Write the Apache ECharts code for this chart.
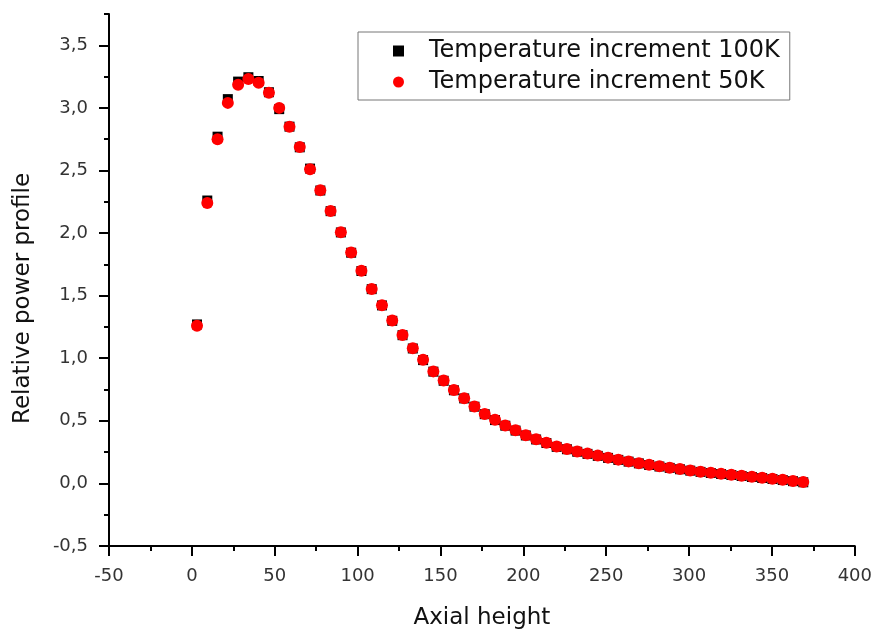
<!DOCTYPE html>
<html>
<head>
<meta charset="utf-8">
<script src="https://cdn.jsdelivr.net/npm/echarts@6/dist/echarts.min.js"></script>
<style>
  html, body { margin: 0; padding: 0; background: #fff; }
  #chart { width: 875px; height: 635px; }
</style>
</head>
<body>
<div id="chart"></div>
<script>
// Axial node heights
const axialHeight = [3.1, 9.3, 15.5, 21.7, 27.9, 34.1, 40.3, 46.5, 52.7, 58.9,
  65.1, 71.3, 77.5, 83.7, 89.9, 96.1, 102.3, 108.5, 114.7, 120.9,
  127.1, 133.3, 139.5, 145.7, 151.9, 158.1, 164.3, 170.5, 176.7, 182.9,
  189.1, 195.3, 201.5, 207.7, 213.9, 220.1, 226.3, 232.5, 238.7, 244.9,
  251.1, 257.3, 263.5, 269.7, 275.9, 282.1, 288.3, 294.5, 300.7, 306.9,
  313.1, 319.3, 325.5, 331.7, 337.9, 344.1, 350.3, 356.5, 362.7, 368.9];

// Relative power, temperature increment 100K
const power100K = [1.27, 2.26, 2.77, 3.07, 3.21, 3.245, 3.215, 3.125, 2.99, 2.85,
  2.685, 2.515, 2.340, 2.175, 2.005, 1.843, 1.697, 1.552, 1.422, 1.299,
  1.184, 1.078, 0.985, 0.893, 0.820, 0.744, 0.679, 0.613, 0.553, 0.506,
  0.461, 0.422, 0.383, 0.351, 0.323, 0.292, 0.273, 0.253, 0.236, 0.220,
  0.204, 0.188, 0.174, 0.160, 0.147, 0.135, 0.124, 0.113, 0.102, 0.092,
  0.083, 0.075, 0.067, 0.059, 0.051, 0.043, 0.035, 0.027, 0.018, 0.009];

// Relative power, temperature increment 50K
const power50K = [1.26, 2.24, 2.75, 3.04, 3.185, 3.23, 3.20, 3.12, 3.00, 2.85,
  2.687, 2.51, 2.342, 2.177, 2.007, 1.845, 1.699, 1.554, 1.424, 1.301,
  1.186, 1.080, 0.987, 0.895, 0.822, 0.746, 0.681, 0.615, 0.555, 0.508,
  0.463, 0.424, 0.385, 0.353, 0.325, 0.294, 0.275, 0.255, 0.238, 0.222,
  0.206, 0.190, 0.176, 0.162, 0.149, 0.137, 0.126, 0.115, 0.104, 0.094,
  0.085, 0.077, 0.069, 0.061, 0.053, 0.045, 0.037, 0.029, 0.020, 0.011];

const seriesNames = ['Temperature increment 100K', 'Temperature increment 50K'];

// Tick positions
const xTicks = [-50, 0, 50, 100, 150, 200, 250, 300, 350, 400];
const yTicks = [-0.5, 0, 0.5, 1.0, 1.5, 2.0, 2.5, 3.0, 3.5];
const yMinorTicks = [-0.25, 0.25, 0.75, 1.25, 1.75, 2.25, 2.75, 3.25, 3.75];

const FONT = 'DejaVu Sans';

const chart = echarts.init(document.getElementById('chart'), null, { renderer: 'canvas' });

const pairs = (xs, ys) => xs.map((x, i) => [x, ys[i]]);

chart.setOption({
  animation: false,
  backgroundColor: '#fff',
  grid: { left: 109, right: 20, top: 14, bottom: 82, containLabel: false },
  legend: {
    orient: 'vertical',
    left: 358,
    top: 32,
    padding: [7, 10, 6, 35],
    itemGap: 7,
    itemWidth: 11,
    itemHeight: 11,
    borderColor: '#777',
    borderWidth: 1,
    backgroundColor: '#fff',
    selectedMode: false,
    textStyle: { fontFamily: FONT, fontSize: 24, color: '#111', padding: [0, 0, 0, 20] },
    data: [
      { name: seriesNames[0], icon: 'rect' },
      { name: seriesNames[1], icon: 'circle' }
    ]
  },
  xAxis: {
    type: 'value',
    min: xTicks[0],
    max: xTicks[xTicks.length - 1],
    interval: 50,
    name: 'Axial height',
    nameLocation: 'middle',
    nameGap: 61,
    nameTextStyle: { fontFamily: FONT, fontSize: 23, color: '#111' },
    axisLine: { onZero: false, lineStyle: { color: '#000', width: 2 } },
    axisTick: { inside: false, length: 10, lineStyle: { color: '#000', width: 2 } },
    minorTick: { show: true, splitNumber: 2, length: 5, lineStyle: { color: '#000', width: 2 } },
    axisLabel: { margin: 21, fontFamily: FONT, fontSize: 18, color: '#333' },
    splitLine: { show: false }
  },
  yAxis: [
    {
      type: 'value',
      min: -0.5,
      max: 3.75,
      interval: 0.5,
      name: 'Relative power profile',
      nameLocation: 'middle',
      nameGap: 74,
      nameTextStyle: { fontFamily: FONT, fontSize: 23, color: '#111', padding: [0, 37, 0, 0] },
      axisLine: { onZero: false, lineStyle: { color: '#000', width: 2 } },
      axisTick: { inside: false, length: 10, customValues: yTicks, lineStyle: { color: '#000', width: 2 } },
      axisLabel: {
        margin: 21,
        customValues: yTicks,
        fontFamily: FONT, fontSize: 18, color: '#333',
        formatter: v => v.toFixed(1).replace('.', ',')
      },
      splitLine: { show: false }
    },
    {
      // minor ticks on the same left edge
      type: 'value',
      position: 'left',
      offset: 0,
      min: -0.5,
      max: 3.75,
      axisLine: { show: false, onZero: false },
      axisTick: { inside: false, length: 5, customValues: yMinorTicks, lineStyle: { color: '#000', width: 2 } },
      axisLabel: { show: false },
      splitLine: { show: false }
    }
  ],
  series: [
    {
      name: seriesNames[0],
      type: 'scatter',
      symbol: 'rect',
      symbolSize: 10,
      itemStyle: { color: '#000', opacity: 1 },
      data: pairs(axialHeight, power100K),
      z: 2
    },
    {
      name: seriesNames[1],
      type: 'scatter',
      symbol: 'circle',
      symbolSize: 12,
      itemStyle: { color: '#ff0000', opacity: 1 },
      data: pairs(axialHeight, power50K),
      z: 3
    }
  ]
});
</script>
</body>
</html>
